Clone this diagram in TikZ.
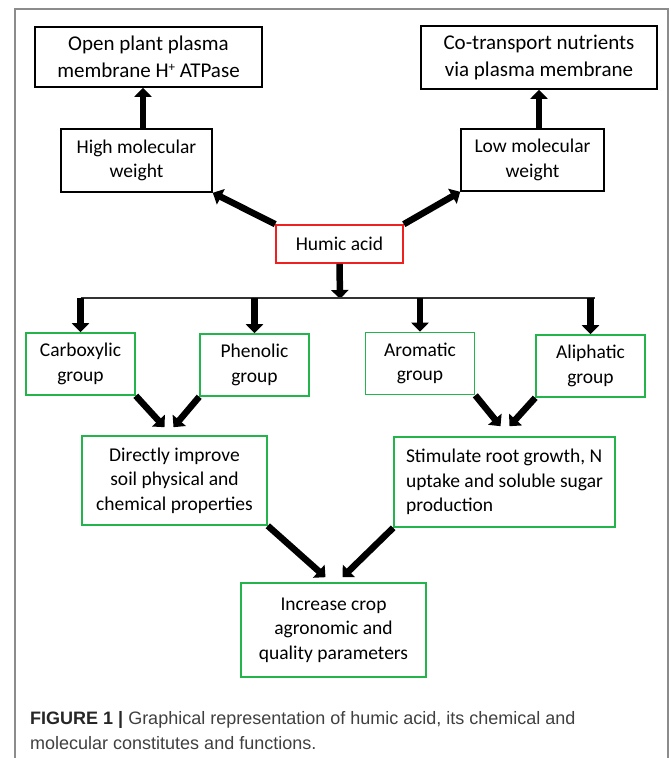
\documentclass[tikz,border=0pt]{standalone}
\usepackage{fontspec}
\setmainfont{Carlito}
\newfontfamily\capfont{Liberation Sans}
\usetikzlibrary{arrows.meta}
\definecolor{boxgreen}{RGB}{35,180,75}
\definecolor{boxred}{RGB}{238,32,32}
\tikzstyle{topblock} = [draw, rectangle, line width=1.6pt, align=center, font=\fontsize{21}{26.5}\selectfont, inner sep=2pt]
\tikzstyle{block} = [draw, rectangle, line width=1.6pt, align=center, font=\fontsize{19.5}{24.5}\selectfont, inner sep=2pt]
\tikzstyle{group} = [block, draw=boxgreen, minimum width=109pt, minimum height=62pt]
\tikzstyle{fat} = [line width=6.5pt, -{Triangle[length=9pt,width=17pt]}]
\tikzstyle{frame} = [line width=1.2pt, black!45]

\begin{document}
\begin{tikzpicture}[x=1pt,y=-1pt]
\useasboundingbox (0,0) rectangle (670,758);
\draw [frame] (15,758) -- (15,9) -- (668,9) -- (668,758);

\node [topblock, minimum width=227pt, minimum height=60pt] (open) at (148.5,57) {Open plant plasma\\membrane H\raisebox{6pt}{\fontsize{13}{13}\selectfont +} ATPase};
\node [topblock, minimum width=236pt, minimum height=63pt] (cotrans) at (539,57.5) {Co-transport nutrients\\via plasma membrane};
\node [block, minimum width=151pt, minimum height=63pt] (high) at (136.5,160.5) {High molecular\\weight};
\node [block, minimum width=143pt, minimum height=62pt] (low) at (532.5,160) {Low molecular\\weight};
\node [block, draw=boxred, minimum width=127pt, minimum height=38pt] (humic) at (339.5,244) {Humic acid};
\coordinate (bar) at (340,298);

\node [group] (carb) at (80.5,364) {Carboxylic\\group};
\node [group] (phen) at (254.5,365) {Phenolic\\group};
\node [group] (arom) at (420,363.5) {Aromatic\\group};
\node [group] (alip) at (590.5,366) {Aliphatic\\group};

\node [block, draw=boxgreen, minimum width=185pt, minimum height=89pt] (direct) at (174.5,480.5) {Directly improve\\soil physical and\\chemical properties};
\node [block, draw=boxgreen, minimum width=221pt, minimum height=90pt, align=left] (stim) at (504.5,482) {Stimulate root growth, N\\uptake and soluble sugar\\production};
\node [block, draw=boxgreen, minimum width=185pt, minimum height=94pt] (incr) at (333.5,630) {Increase crop\\agronomic and\\quality parameters};

\node [anchor=north west, align=left, font=\capfont\fontsize{18}{25}\selectfont, text=black!75, inner sep=0pt] (cap) at (30,711) {\textbf{\color{black!85}FIGURE 1 |} Graphical representation of humic acid, its chemical and\\molecular constitutes and functions.};

\draw [fat] ([xshift=6.5pt]high.north) -- ([xshift=6.5pt]high.north |- open.south);
\draw [fat] (cotrans.south |- low.north) -- (cotrans.south);
\draw [fat] (humic.north west) -- (high.south east);
\draw [fat] (humic.north east) -- (low.south west);
\draw [fat, shorten >=-1pt] (humic.south) -- (bar);
\draw [line width=1.5pt, black!80] (carb.north |- bar) -- ([xshift=4pt]alip.north |- bar);
\draw [fat] (carb.north |- bar) -- (carb.north);
\draw [fat] (phen.north |- bar) -- (phen.north);
\draw [fat] (arom.north |- bar) -- (arom.north);
\draw [fat] (alip.north |- bar) -- (alip.north);

\draw [fat] (carb.south east) -- ([shift={(-10,-8)}]direct.north);
\draw [fat] (phen.south west) -- ([shift={(-1,-8)}]direct.north);
\draw [fat] (arom.south east) -- ([shift={(-4,-10)}]stim.north);
\draw [fat] (alip.south west) -- ([shift={(5,-10)}]stim.north);
\draw [fat] (direct.south east) -- ([shift={(-8,-5)}]incr.north);
\draw [fat] (stim.south west) -- ([shift={(9,-5)}]incr.north);
\end{tikzpicture}
\end{document}
